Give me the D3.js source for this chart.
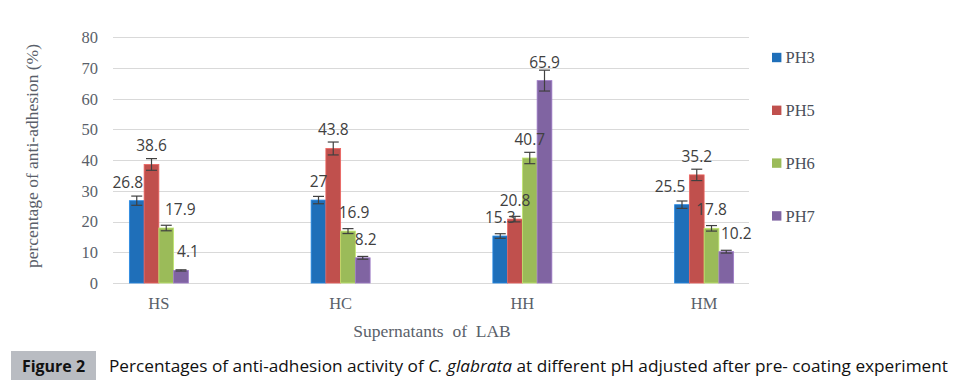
<!DOCTYPE html>
<html>
<head>
<meta charset="utf-8">
<script src="https://d3js.org/d3.v7.min.js"></script>
<style>
  body { margin: 0; background: #fff; }
  svg { display: block; }
</style>
</head>
<body>
<svg id="chart" width="961" height="386"></svg>
<script>
// data
var categories = ["HS", "HC", "HH", "HM"];
var seriesNames = ["PH3", "PH5", "PH6", "PH7"];
var ph3 = [26.8, 27, 15.3, 25.5];
var ph5 = [38.6, 43.8, 20.8, 35.2];
var ph6 = [17.9, 16.9, 40.7, 17.8];
var ph7 = [4.1, 8.2, 65.9, 10.2];
var err3 = [1.5, 1.2, 0.75, 1.2];
var err5 = [1.9, 2.1, 0.9, 1.85];
var err6 = [0.9, 0.8, 1.85, 0.9];
var err7 = [0.2, 0.45, 3.4, 0.45];
var yTicks = [0, 10, 20, 30, 40, 50, 60, 70, 80];

var colors = ["#1f6fb9", "#c0504d", "#9bbb59", "#8064a2"];
var values = [ph3, ph5, ph6, ph7];
var errors = [err3, err5, err6, err7];

// the data labels Excel pushed sideways
var labelNudge = {"HS-PH3": -9, "HS-PH6": 14, "HS-PH7": 7, "HC-PH6": 6, "HC-PH7": 3, "HM-PH3": -12, "HM-PH7": 10};

var svg = d3.select("#chart");

var y = d3.scaleLinear().domain([0, 80]).range([283, 37.3]);
var x0 = d3.scaleBand().domain(categories).range([68, 795]);
var x1 = d3.scaleBand().domain(seriesNames).range([-29.5, 29.5]);

var gridLeft = 113, gridRight = 749;

// gridlines
svg.append("g").selectAll("line")
  .data(yTicks)
  .enter().append("line")
  .attr("x1", gridLeft).attr("x2", gridRight)
  .attr("y1", function(d) { return Math.round(y(d)) + 0.5; })
  .attr("y2", function(d) { return Math.round(y(d)) + 0.5; })
  .attr("stroke", "#d9d9d9")
  .attr("stroke-width", 1);

// y tick labels
svg.append("g").selectAll("text")
  .data(yTicks)
  .enter().append("text")
  .attr("x", 98)
  .attr("y", function(d) { return y(d); })
  .attr("dy", "0.35em")
  .attr("text-anchor", "end")
  .attr("font-family", "Liberation Serif")
  .attr("font-size", 16.5)
  .attr("fill", "#5a5f6a")
  .text(function(d) { return d; });

// x tick labels
svg.append("g").selectAll("text")
  .data(categories)
  .enter().append("text")
  .attr("x", function(d) { return x0(d) + x0.bandwidth() / 2; })
  .attr("y", 309)
  .attr("text-anchor", "middle")
  .attr("font-family", "Liberation Serif")
  .attr("font-size", 16.5)
  .attr("fill", "#5a5f6a")
  .text(function(d) { return d; });

// bars, error bars, labels
var rows = [];
categories.forEach(function(c, ci) {
  seriesNames.forEach(function(s, si) {
    rows.push({cat: c, ser: s, si: si, v: values[si][ci], e: errors[si][ci]});
  });
});

var g = svg.append("g");
var bw = x1.bandwidth();

function cx(d) { return x0(d.cat) + x0.bandwidth() / 2 + x1(d.ser); }

g.selectAll("rect.bar")
  .data(rows)
  .enter().append("rect")
  .attr("class", "bar")
  .attr("x", function(d) { return cx(d); })
  .attr("width", bw)
  .attr("y", function(d) { return y(d.v); })
  .attr("height", function(d) { return y(0) - y(d.v); })
  .attr("fill", function(d) { return colors[d.si]; })
  .attr("stroke", function(d) { return d3.color(colors[d.si]).brighter(0.6); })
  .attr("stroke-width", 0.8);

var capW = 11;
var eb = g.selectAll("g.err")
  .data(rows)
  .enter().append("g")
  .attr("class", "err")
  .attr("stroke", "#404040")
  .attr("stroke-width", 1.2);
eb.append("line")
  .attr("x1", function(d) { return cx(d) + bw / 2; })
  .attr("x2", function(d) { return cx(d) + bw / 2; })
  .attr("y1", function(d) { return y(d.v + d.e); })
  .attr("y2", function(d) { return y(d.v - d.e); });
eb.append("line")
  .attr("x1", function(d) { return cx(d) + bw / 2 - capW / 2; })
  .attr("x2", function(d) { return cx(d) + bw / 2 + capW / 2; })
  .attr("y1", function(d) { return y(d.v + d.e); })
  .attr("y2", function(d) { return y(d.v + d.e); });
eb.append("line")
  .attr("x1", function(d) { return cx(d) + bw / 2 - capW / 2; })
  .attr("x2", function(d) { return cx(d) + bw / 2 + capW / 2; })
  .attr("y1", function(d) { return y(d.v - d.e); })
  .attr("y2", function(d) { return y(d.v - d.e); });

g.selectAll("text.lbl")
  .data(rows)
  .enter().append("text")
  .attr("class", "lbl")
  .attr("x", function(d) { return cx(d) + bw / 2 + (labelNudge[d.cat + "-" + d.ser] || 0); })
  .attr("y", function(d) { return y(d.v) - 18.5; })
  .attr("dy", "0.35em")
  .attr("text-anchor", "middle")
  .attr("font-family", "Open Sans")
  .attr("font-size", 15.5)
  .attr("fill", "#404040")
  .text(function(d) { return d.v; });

// legend
var leg = svg.append("g").selectAll("g")
  .data(seriesNames)
  .enter().append("g")
  .attr("transform", function(d, i) { return "translate(772," + (57.5 + i * 52.8) + ")"; });
leg.append("rect")
  .attr("x", 0).attr("y", -4.7)
  .attr("width", 9.4).attr("height", 9.4)
  .attr("fill", function(d, i) { return colors[i]; });
leg.append("text")
  .attr("x", 13.5)
  .attr("dy", "0.35em")
  .attr("font-family", "Liberation Serif")
  .attr("font-size", 16.5)
  .attr("fill", "#4a4f5a")
  .text(function(d) { return d; });

// axis titles
svg.append("text")
  .attr("transform", "translate(38,156) rotate(-90)")
  .attr("text-anchor", "middle")
  .attr("font-family", "Liberation Serif")
  .attr("font-size", 17.5)
  .attr("fill", "#5a5f6a")
  .text("percentage of anti-adhesion (%)");

svg.append("text")
  .attr("x", 432)
  .attr("y", 337)
  .attr("text-anchor", "middle")
  .attr("font-family", "Liberation Serif")
  .attr("font-size", 17.5)
  .attr("fill", "#5a5f6a")
  .style("white-space", "pre")
  .text("Supernatants  of  LAB");

// caption
svg.append("rect")
  .attr("x", 11).attr("y", 351)
  .attr("width", 85).attr("height", 29)
  .attr("fill", "#b9bcc2");
svg.append("text")
  .attr("x", 53.5).attr("y", 372)
  .attr("text-anchor", "middle")
  .attr("font-family", "Open Sans")
  .attr("font-weight", "bold")
  .attr("font-size", 16)
  .attr("fill", "#111")
  .text("Figure 2");
var cap = svg.append("text")
  .attr("x", 109).attr("y", 372)
  .attr("font-family", "Open Sans")
  .attr("font-size", 15.5)
  .attr("fill", "#111")
  .attr("textLength", 839)
  .attr("lengthAdjust", "spacingAndGlyphs");
cap.append("tspan").text("Percentages of anti-adhesion activity of ");
cap.append("tspan").attr("font-style", "italic").text("C. glabrata");
cap.append("tspan").text(" at different pH adjusted after pre- coating experiment");
</script>
</body>
</html>
